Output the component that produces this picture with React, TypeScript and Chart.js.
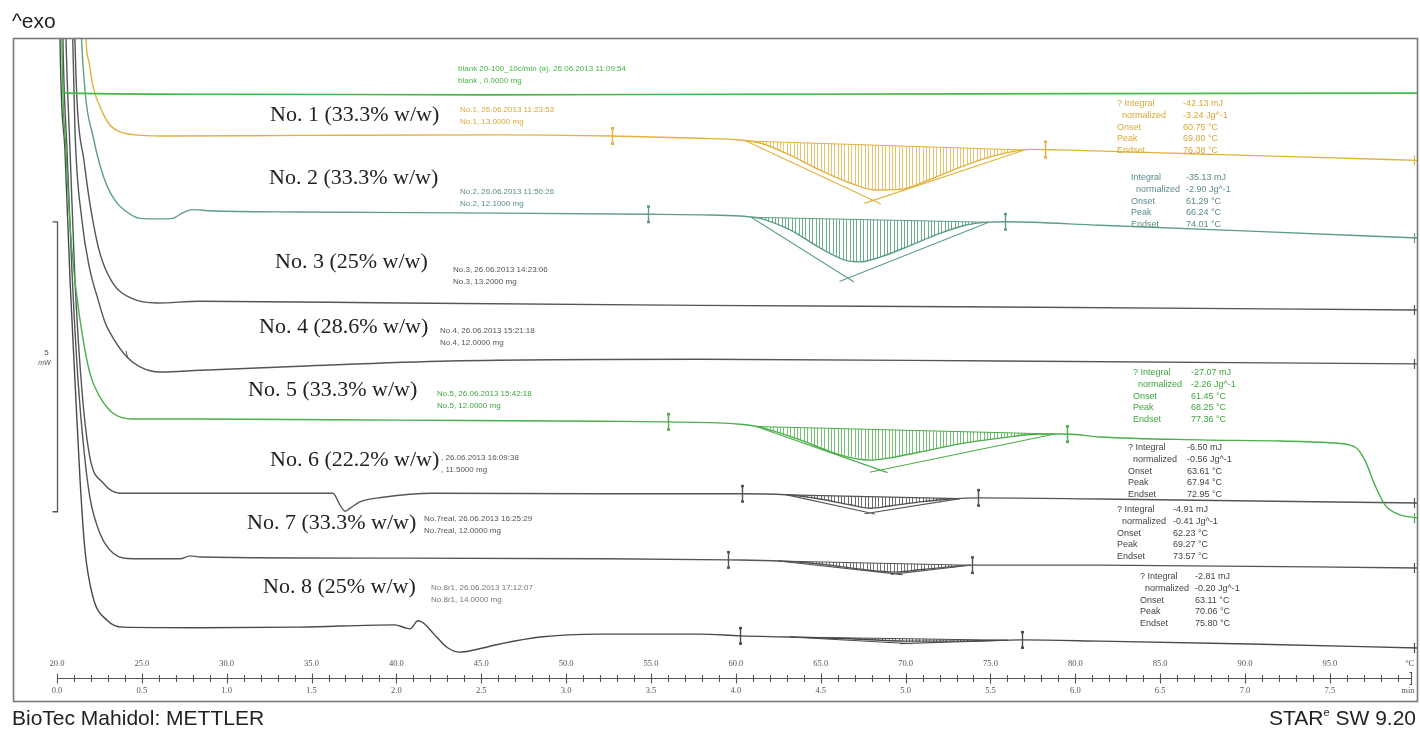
import React, { useEffect, useRef } from "react";
import { Chart, registerables } from "chart.js";

Chart.register(...registerables);

// ---------------- data: temperature (°C) vs displayed heat flow (mW, with curve offsets) ----------------
const tempTicks = [20, 25, 30, 35, 40, 45, 50, 55, 60, 65, 70, 75, 80, 85, 90, 95];
const timeTicks = ["0.0", "0.5", "1.0", "1.5", "2.0", "2.5", "3.0", "3.5", "4.0", "4.5", "5.0", "5.5", "6.0", "6.5", "7.0", "7.5"];

const blankTrace = [
  [20.29, 9.74], [20.6, 9.69], [30, 9.67], [45, 9.66], [60, 9.67], [80, 9.68], [100.19, 9.69],
];
const trace1 = [
  [21.47, 14.74], [21.53, 13.02], [21.71, 10.64], [21.89, 10.22], [22.12, 9.81], [22.71, 9.34], [23.12, 9.14],
  [23.71, 9.02], [24.6, 8.97], [26.07, 8.95], [34.32, 8.96], [46.1, 8.97], [52.7, 8.95], [57.88, 8.91],
  [60.24, 8.88], [61.42, 8.83], [63.19, 8.62], [64.95, 8.36], [66.72, 8.14], [68.2, 8.02], [69.67, 8.03],
  [71.43, 8.2], [73.2, 8.41], [74.97, 8.59], [76.44, 8.69], [77.33, 8.72], [79.09, 8.71], [87.34, 8.64],
  [93.23, 8.59], [100.19, 8.53],
];
const trace2 = [
  [21.12, 14.74], [21.36, 11.29], [21.65, 9.74], [22.12, 8.95], [22.53, 8.45], [22.95, 8.09], [23.42, 7.84],
  [23.89, 7.69], [24.89, 7.53], [26.07, 7.52], [26.83, 7.53], [27.25, 7.6], [27.66, 7.66], [28.13, 7.68],
  [29.01, 7.66], [34.32, 7.64], [46.1, 7.62], [54.82, 7.6], [57.88, 7.59], [60.24, 7.57], [61.42, 7.53],
  [63.19, 7.33], [64.95, 7.02], [66.43, 6.81], [67.31, 6.78], [68.49, 6.86], [70.26, 7.06], [72.02, 7.27],
  [73.5, 7.41], [74.67, 7.46], [75.85, 7.47], [81.45, 7.41], [90.29, 7.31], [100.19, 7.19],
];
const trace3 = [
  [20.77, 14.74], [21.0, 11.29], [21.18, 9.57], [21.59, 8.53], [21.94, 7.79], [22.53, 6.93], [23.3, 6.41],
  [24.48, 6.14], [25.89, 6.07], [28.43, 6.1], [40.21, 6.07], [57.88, 6.03], [75.56, 6.0], [100.19, 5.95],
];
const trace4 = [
  [20.65, 14.74], [20.88, 11.29], [21.06, 9.05], [21.47, 7.5], [21.94, 6.64], [22.36, 6.19], [22.83, 5.74],
  [23.3, 5.47], [24.12, 5.14], [24.89, 4.97], [26.07, 4.88], [28.43, 4.91], [34.32, 4.98], [43.15, 5.07],
  [57.88, 5.1], [75.56, 5.07], [100.19, 5.02],
];
const trace5 = [
  [20.18, 14.74], [20.29, 10.64], [20.53, 8.71], [20.88, 6.98], [21.36, 5.78], [21.94, 4.86], [22.53, 4.45],
  [23.3, 4.17], [24.48, 4.07], [28.43, 4.07], [40.21, 4.05], [51.99, 4.03], [56.0, 4.02], [60.24, 3.98],
  [61.42, 3.93], [63.78, 3.71], [66.13, 3.45], [67.9, 3.36], [69.08, 3.4], [70.85, 3.5], [73.2, 3.64],
  [75.56, 3.74], [77.92, 3.81], [79.51, 3.81], [81.45, 3.76], [87.34, 3.71], [92.06, 3.69], [95.0, 3.66],
  [96.47, 3.59], [97.06, 3.36], [97.65, 2.93], [98.24, 2.59], [99.01, 2.43], [100.19, 2.36],
];
const trace6 = [
  [20.29, 14.74], [20.53, 10.64], [20.77, 8.71], [21.06, 6.47], [21.47, 4.57], [21.94, 3.41], [22.71, 2.97],
  [23.71, 2.79], [28.43, 2.79], [36.26, 2.79], [36.67, 2.59], [36.97, 2.48], [37.26, 2.53], [37.85, 2.64],
  [39.21, 2.72], [42.15, 2.79], [51.99, 2.78], [60.36, 2.78], [63.19, 2.76], [64.95, 2.69], [66.72, 2.59],
  [67.9, 2.53], [69.08, 2.57], [70.85, 2.64], [72.61, 2.69], [74.26, 2.71], [81.45, 2.69], [100.19, 2.62],
];
const trace7 = [
  [20.18, 14.74], [20.35, 10.64], [20.59, 8.71], [20.88, 6.64], [21.24, 4.74], [21.59, 3.53], [21.94, 2.72],
  [22.53, 2.1], [23.3, 1.76], [24.48, 1.66], [27.25, 1.66], [27.84, 1.71], [28.43, 1.69], [40.21, 1.67],
  [51.99, 1.66], [59.53, 1.64], [62.6, 1.62], [64.95, 1.57], [67.31, 1.48], [69.37, 1.43], [70.85, 1.47],
  [72.61, 1.52], [73.91, 1.55], [81.45, 1.55], [100.19, 1.5],
];
const trace8 = [
  [20.06, 14.74], [20.18, 10.64], [20.47, 8.71], [20.77, 6.47], [21.06, 4.74], [21.36, 3.02], [21.65, 1.81],
  [22.12, 1.0], [22.95, 0.6], [23.89, 0.48], [28.43, 0.47], [34.32, 0.48], [39.91, 0.52], [40.5, 0.47],
  [40.8, 0.45], [41.27, 0.59], [41.68, 0.53], [42.15, 0.38], [43.04, 0.12], [43.74, 0.05], [44.63, 0.09],
  [46.1, 0.19], [48.46, 0.31], [51.99, 0.36], [57.88, 0.36], [60.24, 0.33], [63.19, 0.31], [66.72, 0.28],
  [69.96, 0.24], [73.2, 0.24], [76.86, 0.26], [81.45, 0.24], [90.29, 0.19], [100.19, 0.12],
];

// integration limits and tangent intersection: [start °C, end °C, cross °C, cross mW]
const peak1 = [60.6, 77.0, 68.1, 7.84];
const peak2 = [60.9, 74.9, 66.6, 6.5];
const peak5 = [61.2, 78.8, 68.5, 3.19];
const peak6 = [63.0, 73.2, 67.9, 2.45];
const peak7 = [62.5, 73.8, 69.4, 1.4];
const peak8 = [63.2, 76.0, 70.0, 0.2];

// evaluation limit markers (°C)
const limits1 = [52.7, 78.21];
const limits2 = [54.82, 75.85];
const limits5 = [56.0, 79.51];
const limits6 = [60.36, 74.26];
const limits7 = [59.53, 73.91];
const limits8 = [60.24, 76.86];

const sampleLabels = [
  "No. 1 (33.3% w/w)", "No. 2 (33.3% w/w)", "No. 3 (25% w/w)", "No. 4 (28.6% w/w)",
  "No. 5 (33.3% w/w)", "No. 6 (22.2% w/w)", "No. 7 (33.3% w/w)", "No. 8 (25% w/w)",
];
const curveInfo = [
  ["blank 20-100_10c/min (a), 26.06.2013 11:09:54", "blank , 0.0000 mg"],
  ["No.1, 26.06.2013 11:23:53", "No.1, 13.0000 mg"],
  ["No.2, 26.06.2013 11:50:26", "No.2, 12.1000 mg"],
  ["No.3, 26.06.2013 14:23:06", "No.3, 13.2000 mg"],
  ["No.4, 26.06.2013 15:21:18", "No.4, 12.0000 mg"],
  ["No.5, 26.06.2013 15:42:18", "No.5, 12.0000 mg"],
  [", 26.06.2013 16:09:38", ", 11.5000 mg"],
  ["No.7real, 26.06.2013 16:25:29", "No.7real, 12.0000 mg"],
  ["No.8r1, 26.06.2013 17:12:07", "No.8r1, 14.0000 mg"],
];
const integralLabels = ["Integral", "normalized", "Onset", "Peak", "Endset"];
const integral1 = ["-42.13 mJ", "-3.24 Jg^-1", "60.75 °C", "69.80 °C", "76.38 °C"];
const integral2 = ["-35.13 mJ", "-2.90 Jg^-1", "61.29 °C", "66.24 °C", "74.01 °C"];
const integral5 = ["-27.07 mJ", "-2.26 Jg^-1", "61.45 °C", "68.25 °C", "77.36 °C"];
const integral6 = ["-6.50 mJ", "-0.56 Jg^-1", "63.61 °C", "67.94 °C", "72.95 °C"];
const integral7 = ["-4.91 mJ", "-0.41 Jg^-1", "62.23 °C", "69.27 °C", "73.57 °C"];
const integral8 = ["-2.81 mJ", "-0.20 Jg^-1", "63.11 °C", "70.06 °C", "75.80 °C"];
const scaleBar = [2.47, 5]; // start mW, length mW

// ---------------- styling / layout ----------------
const C_BLANK = "#46b846";
const C_1 = "#e2b23e";
const C_2 = "#5e9e88";
const C_2T = "#5b8b8b";
const C_5 = "#4aae4a";
const C_DARK = "#555555";
const C_8 = "#4a4a4a";

const traces = [blankTrace, trace1, trace2, trace3, trace4, trace5, trace6, trace7, trace8];
const traceColors = [C_BLANK, C_1, C_2, C_DARK, C_DARK, C_5, C_DARK, C_DARK, C_8];

const peakDefs = [
  { tr: trace1, pk: peak1, lim: limits1, col: C_1, shade: "rgba(226,178,62,0.85)" },
  { tr: trace2, pk: peak2, lim: limits2, col: C_2, shade: "rgba(60,150,100,0.85)" },
  { tr: trace5, pk: peak5, lim: limits5, col: C_5, shade: "rgba(74,174,74,0.85)" },
  { tr: trace6, pk: peak6, lim: limits6, col: C_DARK, shade: "rgba(60,60,60,0.85)" },
  { tr: trace7, pk: peak7, lim: limits7, col: C_DARK, shade: "rgba(60,60,60,0.8)" },
  { tr: trace8, pk: peak8, lim: limits8, col: C_8, shade: "rgba(50,50,50,0.8)" },
];

const labelPos = [[270, 115], [269, 178], [275, 262], [259, 327], [248, 390], [270, 460], [247, 523], [263, 587]];
const infoPos = [[458, 69], [460, 110], [460, 192], [453, 270], [440, 331], [437, 394], [441, 458], [424, 519], [431, 588]];
const infoColors = [C_BLANK, "#d9a838", C_2T, "#555", "#555", "#3fa53f", "#555", "#555", "#777"];

const blocks = [
  { vals: integral1, x: 1117, vx: 1183, y: 104, col: "#d9a838", q: true },
  { vals: integral2, x: 1131, vx: 1186, y: 178, col: C_2T, q: false },
  { vals: integral5, x: 1133, vx: 1191, y: 373, col: "#3fa53f", q: true },
  { vals: integral6, x: 1128, vx: 1187, y: 448, col: "#444", q: true },
  { vals: integral7, x: 1117, vx: 1173, y: 510, col: "#444", q: true },
  { vals: integral8, x: 1140, vx: 1195, y: 577, col: "#444", q: true },
];

function interp(tr: number[][], t: number): number {
  if (t <= tr[0][0]) return tr[0][1];
  for (let i = 0; i < tr.length - 1; i++) {
    const a = tr[i], b = tr[i + 1];
    if (t >= a[0] && t <= b[0]) {
      const f = (t - a[0]) / (b[0] - a[0]);
      return a[1] + f * (b[1] - a[1]);
    }
  }
  return tr[tr.length - 1][1];
}

const dscPlugin = {
  id: "dsc",
  afterDraw(chart: any) {
    const ctx: CanvasRenderingContext2D = chart.ctx;
    const xs = chart.scales.x;
    const ys = chart.scales.y;
    const px = (t: number) => xs.getPixelForValue(t);
    const py = (v: number) => ys.getPixelForValue(v);
    const area = chart.chartArea;

    ctx.save();
    ctx.beginPath();
    ctx.rect(area.left, area.top, area.right - area.left, area.bottom - area.top);
    ctx.clip();

    // integration shading, baseline and tangents
    peakDefs.forEach((d) => {
      const [s, e, ct, cv] = d.pk;
      const bs = interp(d.tr, s);
      const be = interp(d.tr, e);
      ctx.strokeStyle = d.shade;
      ctx.lineWidth = 0.9;
      for (let t = s; t <= e; t += 0.2) {
        const base = bs + ((t - s) / (e - s)) * (be - bs);
        const cvv = interp(d.tr, t);
        ctx.beginPath();
        ctx.moveTo(Math.round(px(t)) + 0.5, py(base));
        ctx.lineTo(Math.round(px(t)) + 0.5, py(cvv));
        ctx.stroke();
      }
      ctx.strokeStyle = d.col;
      ctx.lineWidth = 1.1;
      ctx.beginPath();
      ctx.moveTo(px(s), py(bs));
      ctx.lineTo(px(e), py(be));
      ctx.stroke();
      const ext = 1.06;
      ctx.beginPath();
      ctx.moveTo(px(s), py(bs));
      ctx.lineTo(px(s + (ct - s) * ext), py(bs + (cv - bs) * ext));
      ctx.moveTo(px(e), py(be));
      ctx.lineTo(px(e + (ct - e) * ext), py(be + (cv - be) * ext));
      ctx.stroke();
      // limit markers
      d.lim.forEach((t) => {
        const x = Math.round(px(t)) + 0.5;
        const y = py(interp(d.tr, t));
        ctx.lineWidth = 1.4;
        ctx.beginPath();
        ctx.moveTo(x, y - 8);
        ctx.lineTo(x, y + 8);
        ctx.stroke();
        ctx.fillStyle = d.col;
        ctx.fillRect(x - 1.5, y - 9, 3, 2.5);
        ctx.fillRect(x - 1.5, y + 6.5, 3, 2.5);
      });
    });

    // right end markers
    traces.forEach((tr, i) => {
      if (i === 0) return;
      const x = Math.round(px(99.95)) + 0.5;
      const y = py(tr[tr.length - 1][1]);
      ctx.strokeStyle = traceColors[i];
      ctx.lineWidth = 1.2;
      ctx.beginPath();
      ctx.moveTo(x, y - 5);
      ctx.lineTo(x, y + 5);
      ctx.stroke();
    });

    // small event tick on No.4
    {
      const t = 24.12;
      const x = px(t);
      const y = py(interp(trace4, t));
      ctx.strokeStyle = C_DARK;
      ctx.lineWidth = 1;
      ctx.beginPath();
      ctx.moveTo(x - 1, y - 6);
      ctx.lineTo(x + 1, y + 1);
      ctx.stroke();
    }
    ctx.restore();

    // scale bar (5 mW)
    const sbx = Math.round(px(20)) + 0.5;
    const y0 = py(scaleBar[0]);
    const y1 = py(scaleBar[0] + scaleBar[1]);
    ctx.strokeStyle = "#555";
    ctx.lineWidth = 1.3;
    ctx.beginPath();
    ctx.moveTo(sbx - 5, y1);
    ctx.lineTo(sbx, y1);
    ctx.lineTo(sbx, y0);
    ctx.lineTo(sbx - 5, y0);
    ctx.stroke();
    ctx.fillStyle = "#555";
    ctx.font = "8px 'Liberation Sans', Arial, sans-serif";
    ctx.textAlign = "center";
    ctx.textBaseline = "middle";
    ctx.fillText(String(scaleBar[1]), sbx - 11, (y0 + y1) / 2 - 14);
    ctx.font = "italic 7px 'Liberation Sans', Arial, sans-serif";
    ctx.fillText("mW", sbx - 13, (y0 + y1) / 2 - 4);

    // frame
    ctx.strokeStyle = "#7a7a7a";
    ctx.lineWidth = 1.6;
    ctx.strokeRect(13.5, 38.5, 1404, 663);

    // bottom axis
    const axY = 678.5;
    ctx.strokeStyle = "#555";
    ctx.lineWidth = 1.1;
    ctx.beginPath();
    ctx.moveTo(px(20), axY);
    ctx.lineTo(px(99.8), axY);
    for (let t = 20; t <= 99; t += 1) {
      const x = Math.round(px(t)) + 0.5;
      const h = t % 5 === 0 ? 5 : 3.5;
      ctx.moveTo(x, axY - h);
      ctx.lineTo(x, axY + h);
    }
    const xe = Math.round(px(99.8)) + 0.5;
    ctx.moveTo(xe - 2, axY - 6);
    ctx.lineTo(xe, axY - 6);
    ctx.lineTo(xe, axY + 6);
    ctx.lineTo(xe - 2, axY + 6);
    ctx.stroke();
    ctx.fillStyle = "#555";
    ctx.font = "8.5px 'Liberation Serif', 'Times New Roman', serif";
    ctx.textAlign = "center";
    ctx.textBaseline = "middle";
    tempTicks.forEach((t, i) => {
      ctx.fillText(t.toFixed(1), px(t), 664);
      ctx.fillText(timeTicks[i], px(t), 691);
    });
    ctx.fillText("°C", px(99.7), 664);
    ctx.fillText("min", px(99.6), 691);

    // big sample labels
    ctx.fillStyle = "#222";
    ctx.font = "22px 'Liberation Serif', 'Times New Roman', serif";
    ctx.textAlign = "left";
    sampleLabels.forEach((s, i) => ctx.fillText(s, labelPos[i][0], labelPos[i][1]));

    // curve information
    ctx.font = "8px 'Liberation Sans', Arial, sans-serif";
    curveInfo.forEach((lines, i) => {
      ctx.fillStyle = infoColors[i];
      ctx.fillText(lines[0], infoPos[i][0], infoPos[i][1]);
      ctx.fillText(lines[1], infoPos[i][0], infoPos[i][1] + 11.5);
    });

    // integration results
    ctx.font = "9px 'Liberation Sans', Arial, sans-serif";
    blocks.forEach((b) => {
      ctx.fillStyle = b.col;
      integralLabels.forEach((lab, k) => {
        const y = b.y + k * 11.6;
        let text = lab;
        let x = b.x;
        if (k === 0 && b.q) text = "? " + lab;
        if (k === 1) x = b.x + 5;
        ctx.fillText(text, x, y);
        ctx.fillText(b.vals[k], b.vx, y);
      });
    });

    // header / footer
    ctx.fillStyle = "#222";
    ctx.font = "21px 'Liberation Sans', Arial, sans-serif";
    ctx.textAlign = "left";
    ctx.fillText("^exo", 12, 22);
    ctx.fillText("BioTec Mahidol: METTLER", 12, 719);
    const part1 = "STAR";
    const part3 = " SW 9.20";
    const w1 = ctx.measureText(part1).width;
    const w3 = ctx.measureText(part3).width;
    ctx.font = "11px 'Liberation Sans', Arial, sans-serif";
    const w2 = ctx.measureText("e").width;
    const xr = 1416 - w1 - w2 - w3;
    ctx.font = "21px 'Liberation Sans', Arial, sans-serif";
    ctx.fillText(part1, xr, 719);
    ctx.fillText(part3, xr + w1 + w2, 719);
    ctx.font = "11px 'Liberation Sans', Arial, sans-serif";
    ctx.fillText("e", xr + w1, 713);
  },
};

export default function App() {
  const ref = useRef<HTMLCanvasElement | null>(null);
  useEffect(() => {
    if (!ref.current) return;
    const chart = new Chart(ref.current, {
      type: "line",
      data: {
        datasets: traces.map((tr, i) => ({
          label: i === 0 ? "blank" : "No." + i,
          data: tr.map(([x, y]) => ({ x, y })),
          borderColor: traceColors[i],
          borderWidth: i === 0 ? 1.6 : 1.4,
          pointRadius: 0,
          fill: false,
          cubicInterpolationMode: "monotone" as const,
        })),
      },
      options: {
        animation: false,
        responsive: false,
        maintainAspectRatio: false,
        devicePixelRatio: 1,
        layout: { padding: { left: 13, right: 2, top: 38, bottom: 75 } },
        plugins: { legend: { display: false }, tooltip: { enabled: false } },
        scales: {
          x: { type: "linear", min: 17.41, max: 100.19, display: false },
          y: { type: "linear", min: 0, max: 10.64, display: false },
        },
      },
      plugins: [dscPlugin],
    });
    return () => chart.destroy();
  }, []);
  return (
    <div style={{ position: "fixed", left: 0, top: 0, width: 1420, height: 730, background: "#fff" }}>
      <canvas ref={ref} width={1420} height={730} style={{ width: 1420, height: 730, display: "block" }} />
    </div>
  );
}
